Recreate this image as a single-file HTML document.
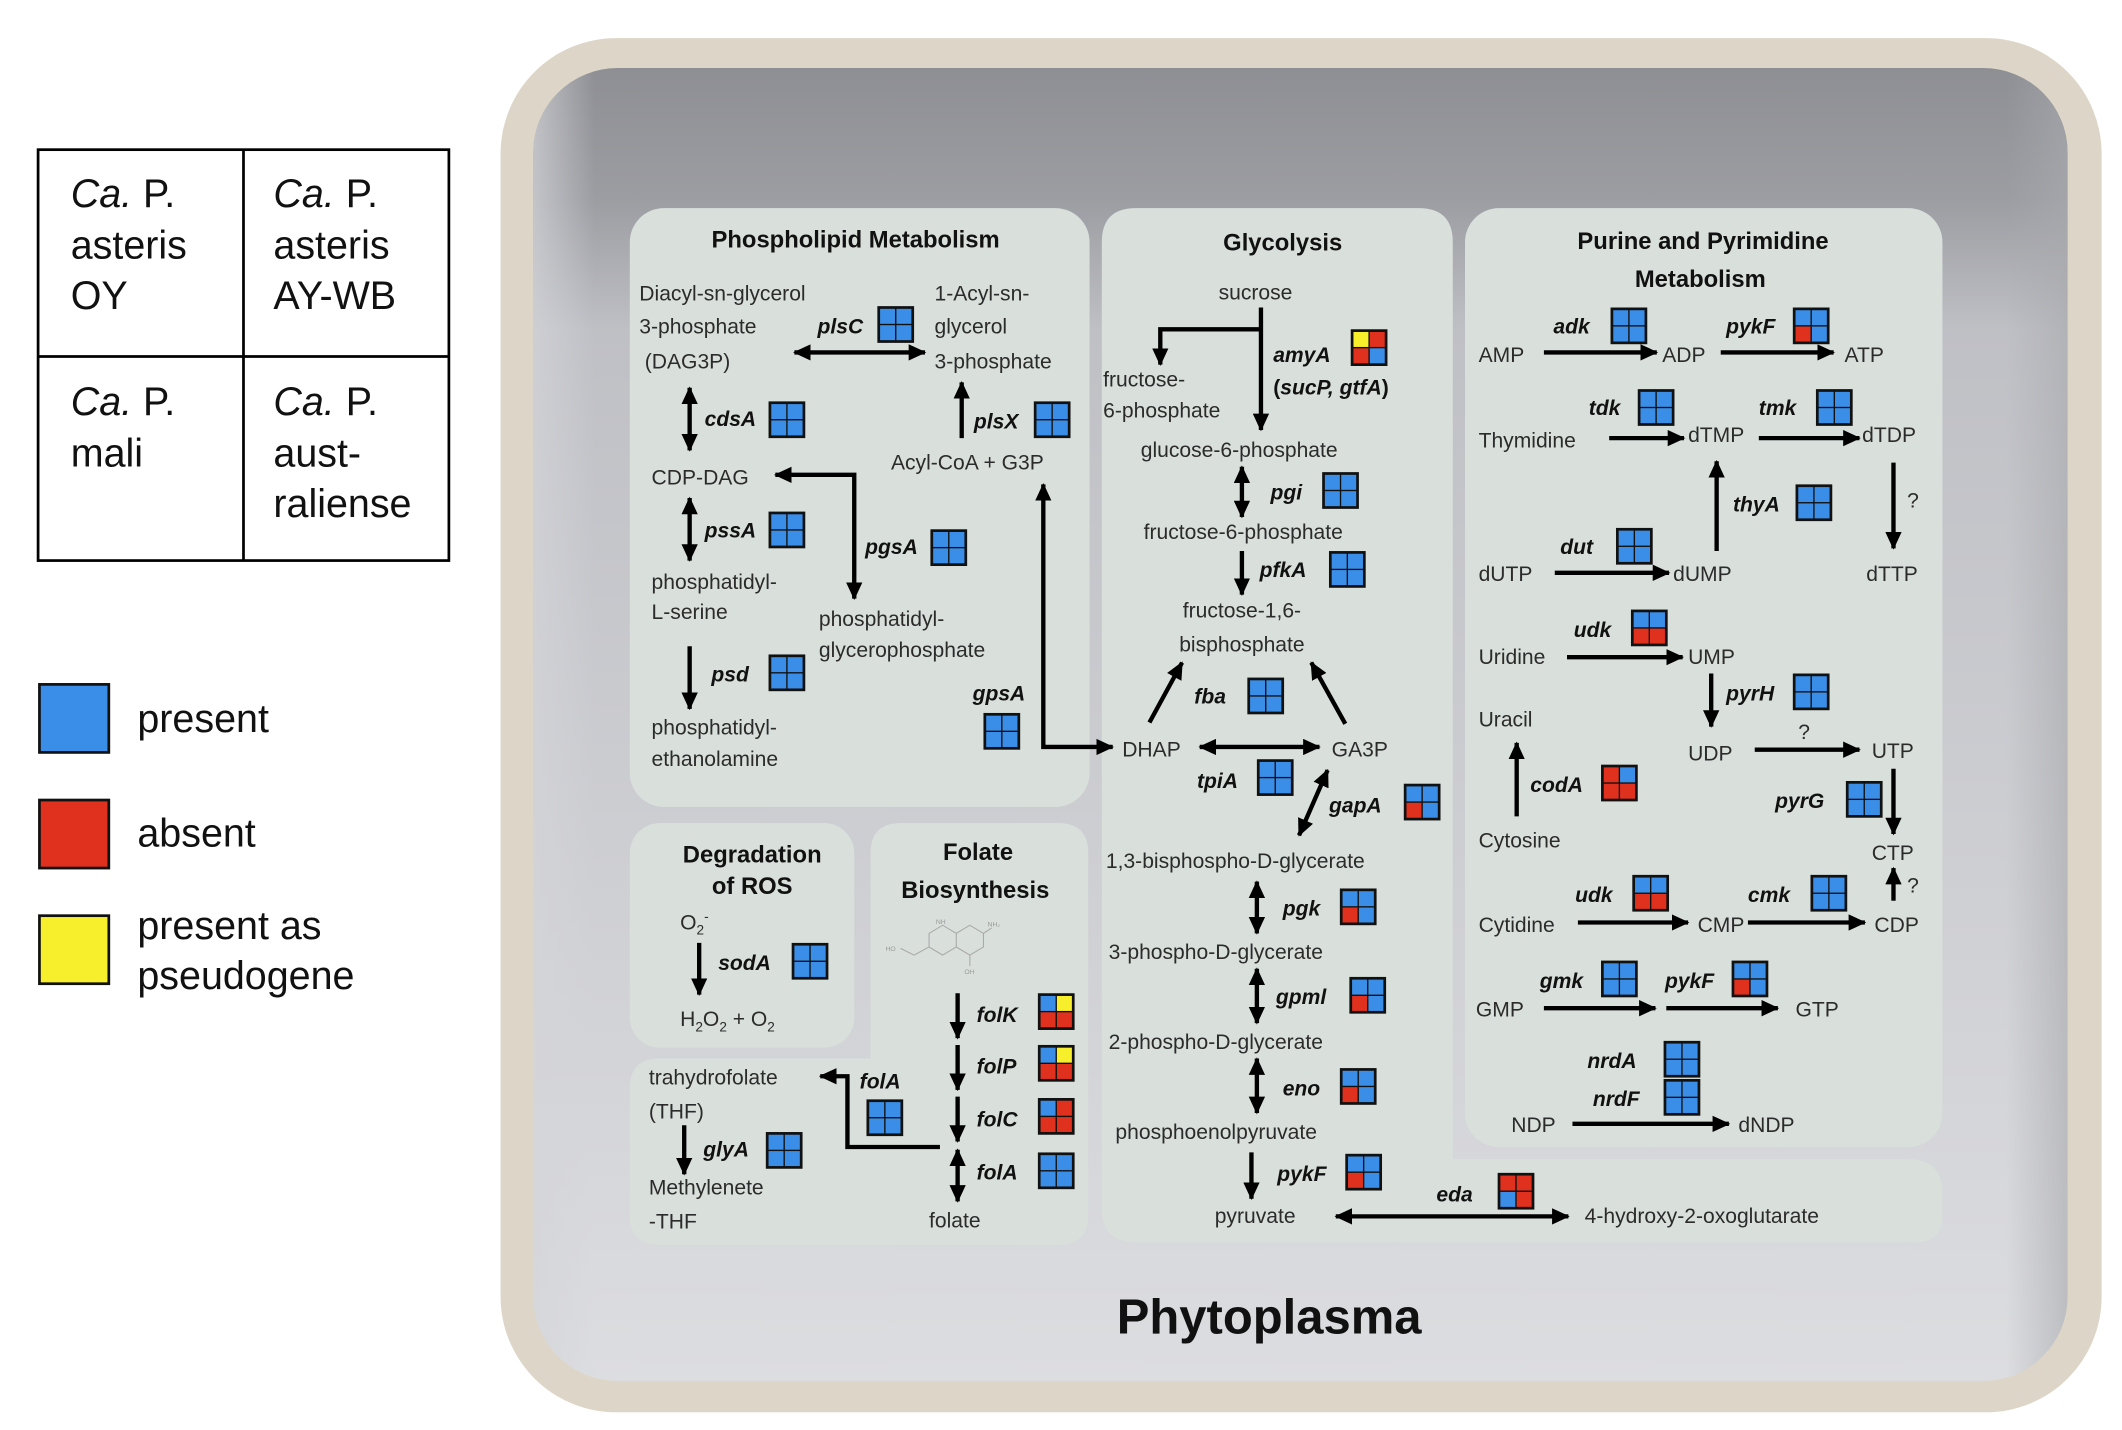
<!DOCTYPE html>
<html><head><meta charset="utf-8"><style>
html,body{margin:0;padding:0;background:#fff;}
svg{display:block;}
text{font-family:"Liberation Sans",sans-serif;fill:#2b2b2b;font-size:15.5px;}
.t{font-weight:bold;fill:#111;font-size:17.5px;}
.g{font-weight:bold;font-style:italic;fill:#111;font-size:15.5px;}
.L{fill:none;stroke:#000;stroke-width:3.2;}
.b{fill:#3a8ee8}.r{fill:#e0301e}.y{fill:#f7ef2c}
.lg{font-size:29px;fill:#111;}
.s{font-size:5px;fill:#999;}
</style></head><body>
<svg width="2122" height="1430" viewBox="0 0 1560 1051" preserveAspectRatio="none" xmlns="http://www.w3.org/2000/svg">
<defs>
<marker id="a" markerUnits="userSpaceOnUse" markerWidth="13" markerHeight="12" refX="12" refY="6" orient="auto-start-reverse"><path d="M0,0 L13,6 L0,12 z" fill="#000"/></marker>
<linearGradient id="fl" x1="0" y1="0" x2="0" y2="1"><stop offset="0" stop-color="#8e8f94"/><stop offset="0.1" stop-color="#9c9da2"/><stop offset="0.2" stop-color="#bfc0c5"/><stop offset="1" stop-color="#dcdde0"/></linearGradient>
<linearGradient id="sd" x1="0" y1="0" x2="1" y2="0"><stop offset="0" stop-color="#d4d5d9" stop-opacity="0.7"/><stop offset="0.04" stop-color="#d4d5d9" stop-opacity="0"/><stop offset="0.96" stop-color="#a9aaae" stop-opacity="0"/><stop offset="1" stop-color="#a9aaae" stop-opacity="0.6"/></linearGradient>
<g id="B"><rect width="27" height="27" fill="#111"/><rect x="2" y="2" width="11" height="11" class="b"/><rect x="14" y="2" width="11" height="11" class="b"/><rect x="2" y="14" width="11" height="11" class="b"/><rect x="14" y="14" width="11" height="11" class="b"/></g>
<g id="P"><rect width="27" height="27" fill="#111"/><rect x="2" y="2" width="11" height="11" class="b"/><rect x="14" y="2" width="11" height="11" class="b"/><rect x="2" y="14" width="11" height="11" class="r"/><rect x="14" y="14" width="11" height="11" class="b"/></g>
<g id="U"><rect width="27" height="27" fill="#111"/><rect x="2" y="2" width="11" height="11" class="b"/><rect x="14" y="2" width="11" height="11" class="b"/><rect x="2" y="14" width="11" height="11" class="r"/><rect x="14" y="14" width="11" height="11" class="r"/></g>
<g id="F"><rect width="27" height="27" fill="#111"/><rect x="2" y="2" width="11" height="11" class="b"/><rect x="14" y="2" width="11" height="11" class="y"/><rect x="2" y="14" width="11" height="11" class="r"/><rect x="14" y="14" width="11" height="11" class="r"/></g>
</defs>

<!-- legend table -->
<rect x="28" y="110" width="302" height="302" fill="#fff" stroke="#000" stroke-width="2"/>
<line x1="179" y1="110" x2="179" y2="412" stroke="#000" stroke-width="2"/>
<line x1="28" y1="262" x2="330" y2="262" stroke="#000" stroke-width="2"/>
<text class="lg" x="52" y="152"><tspan font-style="italic">Ca.</tspan> P.</text>
<text class="lg" x="52" y="190">asteris</text><text class="lg" x="52" y="227">OY</text>
<text class="lg" x="201" y="152"><tspan font-style="italic">Ca.</tspan> P.</text>
<text class="lg" x="201" y="190">asteris</text><text class="lg" x="201" y="227">AY-WB</text>
<text class="lg" x="52" y="305"><tspan font-style="italic">Ca.</tspan> P.</text>
<text class="lg" x="52" y="343">mali</text>
<text class="lg" x="201" y="305"><tspan font-style="italic">Ca.</tspan> P.</text>
<text class="lg" x="201" y="343">aust-</text><text class="lg" x="201" y="380">raliense</text>
<rect x="29" y="503" width="51" height="50" class="b" stroke="#111" stroke-width="2"/>
<rect x="29" y="588" width="51" height="50" class="r" stroke="#111" stroke-width="2"/>
<rect x="29" y="673" width="51" height="50" class="y" stroke="#111" stroke-width="2"/>
<text class="lg" x="101" y="538">present</text>
<text class="lg" x="101" y="622">absent</text>
<text class="lg" x="101" y="690">present as</text>
<text class="lg" x="101" y="727">pseudogene</text>

<!-- tray -->
<rect x="368" y="28" width="1177" height="1010" rx="85" fill="#ddd6c8"/>
<rect x="392" y="50" width="1128" height="965" rx="62" fill="url(#fl)"/>
<rect x="392" y="50" width="1128" height="965" rx="62" fill="url(#sd)"/>

<!-- panels -->
<g fill="#d9e0dc">
<rect x="463" y="153" width="338" height="440" rx="25"/>
<rect x="463" y="605" width="165" height="165" rx="22"/>
<path d="M662,605 H778 Q800,605 800,627 V893 Q800,915 778,915 H485 Q463,915 463,893 V800 Q463,778 485,778 H640 V627 Q640,605 662,605 Z"/>
<path d="M835,153 H1043 Q1068,153 1068,178 V852 H1403 Q1428,852 1428,877 V893 Q1428,913 1408,913 H835 Q810,913 810,888 V178 Q810,153 835,153 Z"/>
<rect x="1077" y="153" width="351" height="690" rx="25"/>
</g>

<!-- Phospholipid -->
<text class="t" x="629" y="182" text-anchor="middle">Phospholipid Metabolism</text>
<text x="470" y="221">Diacyl-sn-glycerol</text>
<text x="470" y="245">3-phosphate</text>
<text x="474" y="271">(DAG3P)</text>
<text class="g" x="601" y="245">plsC</text><use href="#B" x="645" y="225"/>
<text x="687" y="221">1-Acyl-sn-</text>
<text x="687" y="245">glycerol</text>
<text x="687" y="271">3-phosphate</text>
<line class="L" x1="584" y1="259" x2="680" y2="259" marker-start="url(#a)" marker-end="url(#a)"/>
<line class="L" x1="507" y1="285" x2="507" y2="331" marker-start="url(#a)" marker-end="url(#a)"/>
<text class="g" x="518" y="313">cdsA</text><use href="#B" x="565" y="295"/>
<text x="479" y="356">CDP-DAG</text>
<path class="L" d="M570,349 H628 V440" marker-start="url(#a)" marker-end="url(#a)"/>
<text class="g" x="636" y="407">pgsA</text><use href="#B" x="684" y="389"/>
<line class="L" x1="507" y1="366" x2="507" y2="412" marker-start="url(#a)" marker-end="url(#a)"/>
<text class="g" x="518" y="395">pssA</text><use href="#B" x="565" y="376"/>
<text x="479" y="433">phosphatidyl-</text>
<text x="479" y="455">L-serine</text>
<text x="602" y="460">phosphatidyl-</text>
<text x="602" y="483">glycerophosphate</text>
<line class="L" x1="507" y1="475" x2="507" y2="521" marker-end="url(#a)"/>
<text class="g" x="523" y="501">psd</text><use href="#B" x="565" y="481"/>
<text x="479" y="540">phosphatidyl-</text>
<text x="479" y="563">ethanolamine</text>
<line class="L" x1="707" y1="322" x2="707" y2="281" marker-end="url(#a)"/>
<text class="g" x="716" y="315">plsX</text><use href="#B" x="760" y="295"/>
<text x="655" y="345">Acyl-CoA + G3P</text>
<text class="g" x="715" y="515">gpsA</text><use href="#B" x="723" y="524"/>
<path class="L" d="M767,356 V549 H818" marker-start="url(#a)" marker-end="url(#a)"/>

<!-- ROS -->
<text class="t" x="553" y="634" text-anchor="middle">Degradation</text>
<text class="t" x="553" y="657" text-anchor="middle">of ROS</text>
<text x="500" y="683">O<tspan font-size="10" dy="4">2</tspan><tspan font-size="10" dy="-10">-</tspan></text>
<line class="L" x1="514" y1="693" x2="514" y2="731" marker-end="url(#a)"/>
<text class="g" x="528" y="713">sodA</text><use href="#B" x="582" y="693"/>
<text x="500" y="754">H<tspan font-size="10" dy="4">2</tspan><tspan dy="-4">O</tspan><tspan font-size="10" dy="4">2</tspan><tspan dy="-4"> + O</tspan><tspan font-size="10" dy="4">2</tspan></text>

<!-- Folate -->
<text class="t" x="719" y="632" text-anchor="middle">Folate</text>
<text class="t" x="717" y="660" text-anchor="middle">Biosynthesis</text>
<g stroke="#aaa" stroke-width="0.8" fill="none">
<path d="M662,697 L672,702 L683,696 L683,686 L693,680 L703,686 L703,696 L693,702 L683,696 M703,686 L713,680 L723,686 L723,696 L713,702 L703,696 M713,702 L713,710 M723,686 L729,682"/>
</g>
<text class="s" x="651" y="699">HO</text>
<text class="s" x="688" y="679">NH</text>
<text class="s" x="726" y="681">NH₂</text>
<text class="s" x="709" y="716">OH</text>
<line class="L" x1="704" y1="730" x2="704" y2="763" marker-end="url(#a)"/>
<text class="g" x="718" y="751">folK</text><use href="#F" x="763" y="730"/>
<line class="L" x1="704" y1="768" x2="704" y2="801" marker-end="url(#a)"/>
<text class="g" x="718" y="789">folP</text><use href="#F" x="763" y="768"/>
<line class="L" x1="704" y1="806" x2="704" y2="839" marker-end="url(#a)"/>
<text class="g" x="718" y="828">folC</text>
<g transform="translate(763,807)"><rect width="27" height="27" fill="#111"/><rect x="2" y="2" width="11" height="11" class="b"/><rect x="14" y="2" width="11" height="11" class="r"/><rect x="2" y="14" width="11" height="11" class="r"/><rect x="14" y="14" width="11" height="11" class="r"/></g>
<line class="L" x1="704" y1="845" x2="704" y2="883" marker-start="url(#a)" marker-end="url(#a)"/>
<text class="g" x="718" y="867">folA</text><use href="#B" x="763" y="847"/>
<text x="683" y="902">folate</text>
<path class="L" d="M691,843 H623 V791 H603" marker-end="url(#a)"/>
<text class="g" x="632" y="800">folA</text><use href="#B" x="637" y="808"/>
<text x="477" y="797">trahydrofolate</text>
<text x="477" y="822">(THF)</text>
<line class="L" x1="503" y1="827" x2="503" y2="863" marker-end="url(#a)"/>
<text class="g" x="517" y="850">glyA</text><use href="#B" x="563" y="832"/>
<text x="477" y="878">Methylenete</text>
<text x="477" y="903">-THF</text>

<!-- Glycolysis -->
<text class="t" x="943" y="184" text-anchor="middle">Glycolysis</text>
<text x="923" y="220" text-anchor="middle">sucrose</text>
<line class="L" x1="927" y1="226" x2="927" y2="316" marker-end="url(#a)"/>
<path class="L" d="M927,242 H853 V268" marker-end="url(#a)"/>
<text class="g" x="936" y="266">amyA</text>
<g transform="translate(993,242)"><rect width="27" height="27" fill="#111"/><rect x="2" y="2" width="11" height="11" class="y"/><rect x="14" y="2" width="11" height="11" class="r"/><rect x="2" y="14" width="11" height="11" class="r"/><rect x="14" y="14" width="11" height="11" class="b"/></g>
<text x="936" y="290" style="font-weight:bold;fill:#111">(<tspan font-style="italic">sucP, gtfA</tspan>)</text>
<text x="811" y="284">fructose-</text>
<text x="811" y="307">6-phosphate</text>
<text x="911" y="336" text-anchor="middle">glucose-6-phosphate</text>
<line class="L" x1="913" y1="343" x2="913" y2="380" marker-start="url(#a)" marker-end="url(#a)"/>
<text class="g" x="934" y="367">pgi</text><use href="#B" x="972" y="347"/>
<text x="914" y="396" text-anchor="middle">fructose-6-phosphate</text>
<line class="L" x1="913" y1="405" x2="913" y2="437" marker-end="url(#a)"/>
<text class="g" x="926" y="424">pfkA</text><use href="#B" x="977" y="405"/>
<text x="913" y="454" text-anchor="middle">fructose-1,6-</text>
<text x="913" y="479" text-anchor="middle">bisphosphate</text>
<line class="L" x1="845" y1="531" x2="869" y2="487" marker-end="url(#a)"/>
<line class="L" x1="989" y1="532" x2="964" y2="487" marker-end="url(#a)"/>
<text class="g" x="878" y="517">fba</text><use href="#B" x="917" y="498"/>
<text x="825" y="556">DHAP</text>
<line class="L" x1="882" y1="549" x2="970" y2="549" marker-start="url(#a)" marker-end="url(#a)"/>
<text x="979" y="556">GA3P</text>
<text class="g" x="880" y="579">tpiA</text><use href="#B" x="924" y="558"/>
<line class="L" x1="976" y1="566" x2="955" y2="614" marker-start="url(#a)" marker-end="url(#a)"/>
<text class="g" x="977" y="597">gapA</text><use href="#P" x="1032" y="576"/>
<text x="813" y="638">1,3-bisphospho-D-glycerate</text>
<line class="L" x1="924" y1="648" x2="924" y2="686" marker-start="url(#a)" marker-end="url(#a)"/>
<text class="g" x="943" y="673">pgk</text><use href="#P" x="985" y="653"/>
<text x="815" y="705">3-phospho-D-glycerate</text>
<line class="L" x1="924" y1="712" x2="924" y2="752" marker-start="url(#a)" marker-end="url(#a)"/>
<text class="g" x="938" y="738">gpml</text><use href="#P" x="992" y="718"/>
<text x="815" y="771">2-phospho-D-glycerate</text>
<line class="L" x1="924" y1="778" x2="924" y2="818" marker-start="url(#a)" marker-end="url(#a)"/>
<text class="g" x="943" y="805">eno</text><use href="#P" x="985" y="785"/>
<text x="820" y="837">phosphoenolpyruvate</text>
<line class="L" x1="920" y1="847" x2="920" y2="881" marker-end="url(#a)"/>
<text class="g" x="939" y="868">pykF</text><use href="#P" x="989" y="848"/>
<text x="893" y="899">pyruvate</text>
<line class="L" x1="982" y1="894" x2="1153" y2="894" marker-start="url(#a)" marker-end="url(#a)"/>
<text class="g" x="1056" y="883">eda</text>
<g transform="translate(1101,862)"><rect width="27" height="27" fill="#111"/><rect x="2" y="2" width="11" height="11" class="r"/><rect x="14" y="2" width="11" height="11" class="r"/><rect x="2" y="14" width="11" height="11" class="b"/><rect x="14" y="14" width="11" height="11" class="r"/></g>
<text x="1165" y="899">4-hydroxy-2-oxoglutarate</text>

<!-- Purine -->
<text class="t" x="1252" y="183" text-anchor="middle">Purine and Pyrimidine</text>
<text class="t" x="1250" y="211" text-anchor="middle">Metabolism</text>
<text x="1087" y="266">AMP</text>
<line class="L" x1="1135" y1="259" x2="1218" y2="259" marker-end="url(#a)"/>
<text class="g" x="1142" y="245">adk</text><use href="#B" x="1184" y="226"/>
<text x="1222" y="266">ADP</text>
<line class="L" x1="1265" y1="259" x2="1348" y2="259" marker-end="url(#a)"/>
<text class="g" x="1269" y="245">pykF</text><use href="#P" x="1318" y="226"/>
<text x="1356" y="266">ATP</text>
<text x="1087" y="329">Thymidine</text>
<line class="L" x1="1183" y1="322" x2="1238" y2="322" marker-end="url(#a)"/>
<text class="g" x="1168" y="305">tdk</text><use href="#B" x="1204" y="286"/>
<text x="1241" y="325">dTMP</text>
<line class="L" x1="1293" y1="322" x2="1367" y2="322" marker-end="url(#a)"/>
<text class="g" x="1293" y="305">tmk</text><use href="#B" x="1335" y="286"/>
<text x="1369" y="325">dTDP</text>
<line class="L" x1="1262" y1="405" x2="1262" y2="339" marker-end="url(#a)"/>
<text class="g" x="1274" y="376">thyA</text><use href="#B" x="1320" y="356"/>
<line class="L" x1="1392" y1="340" x2="1392" y2="403" marker-end="url(#a)"/>
<text x="1402" y="373">?</text>
<text x="1087" y="427">dUTP</text>
<line class="L" x1="1143" y1="421" x2="1227" y2="421" marker-end="url(#a)"/>
<text class="g" x="1147" y="407">dut</text><use href="#B" x="1188" y="388"/>
<text x="1230" y="427">dUMP</text>
<text x="1372" y="427">dTTP</text>
<text x="1087" y="488">Uridine</text>
<line class="L" x1="1152" y1="483" x2="1237" y2="483" marker-end="url(#a)"/>
<text class="g" x="1157" y="468">udk</text><use href="#U" x="1199" y="448"/>
<text x="1241" y="488">UMP</text>
<line class="L" x1="1258" y1="495" x2="1258" y2="534" marker-end="url(#a)"/>
<text class="g" x="1269" y="515">pyrH</text><use href="#B" x="1318" y="495"/>
<text x="1087" y="534">Uracil</text>
<line class="L" x1="1115" y1="600" x2="1115" y2="546" marker-end="url(#a)"/>
<text class="g" x="1125" y="582">codA</text>
<g transform="translate(1177,562)"><rect width="27" height="27" fill="#111"/><rect x="2" y="2" width="11" height="11" class="r"/><rect x="14" y="2" width="11" height="11" class="b"/><rect x="2" y="14" width="11" height="11" class="r"/><rect x="14" y="14" width="11" height="11" class="r"/></g>
<text x="1087" y="623">Cytosine</text>
<text x="1241" y="559">UDP</text>
<line class="L" x1="1290" y1="551" x2="1367" y2="551" marker-end="url(#a)"/>
<text x="1322" y="543">?</text>
<text x="1376" y="557">UTP</text>
<line class="L" x1="1392" y1="565" x2="1392" y2="613" marker-end="url(#a)"/>
<text class="g" x="1305" y="594">pyrG</text><use href="#B" x="1357" y="574"/>
<text x="1376" y="632">CTP</text>
<line class="L" x1="1392" y1="662" x2="1392" y2="638" marker-end="url(#a)"/>
<text x="1402" y="656">?</text>
<text x="1378" y="685">CDP</text>
<text x="1087" y="685">Cytidine</text>
<line class="L" x1="1160" y1="678" x2="1241" y2="678" marker-end="url(#a)"/>
<text class="g" x="1158" y="663">udk</text><use href="#U" x="1200" y="643"/>
<text x="1248" y="685">CMP</text>
<line class="L" x1="1285" y1="678" x2="1371" y2="678" marker-end="url(#a)"/>
<text class="g" x="1285" y="663">cmk</text><use href="#B" x="1331" y="643"/>
<text x="1085" y="747">GMP</text>
<line class="L" x1="1135" y1="741" x2="1217" y2="741" marker-end="url(#a)"/>
<text class="g" x="1132" y="726">gmk</text><use href="#B" x="1177" y="706"/>
<line class="L" x1="1225" y1="741" x2="1307" y2="741" marker-end="url(#a)"/>
<text class="g" x="1224" y="726">pykF</text><use href="#P" x="1273" y="706"/>
<text x="1320" y="747">GTP</text>
<text x="1111" y="832">NDP</text>
<line class="L" x1="1156" y1="826" x2="1271" y2="826" marker-end="url(#a)"/>
<text class="g" x="1167" y="785">nrdA</text><use href="#B" x="1223" y="765"/>
<text class="g" x="1171" y="813">nrdF</text><use href="#B" x="1223" y="793"/>
<text x="1278" y="832">dNDP</text>

<text x="933" y="980" text-anchor="middle" style="font-weight:bold;fill:#111;font-size:36px">Phytoplasma</text>
</svg>
</body></html>
